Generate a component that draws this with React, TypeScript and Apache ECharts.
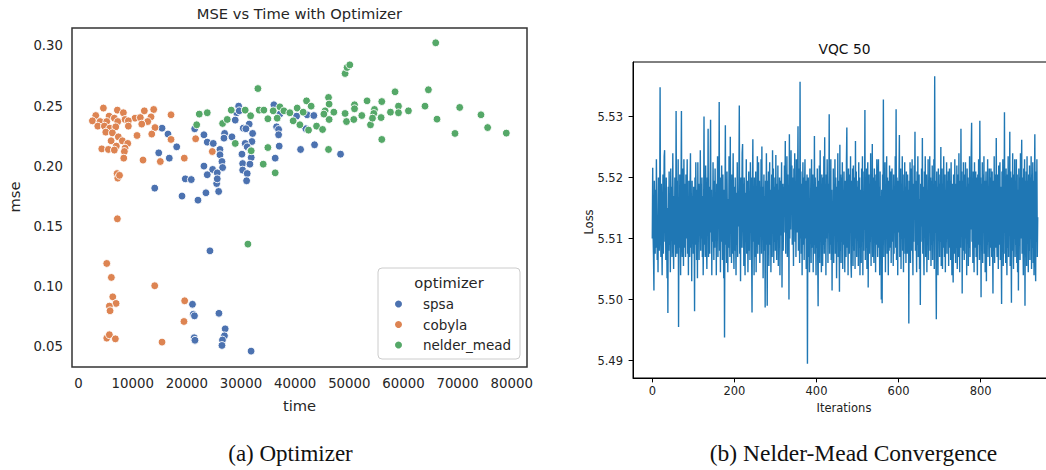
import React, { useEffect, useRef } from "react";
import * as echarts from "echarts";

// ---- Left panel: MSE vs time, one list per optimizer: [time, mse] ----
const spsa: [number, number][] = [
  [29560, 0.2499], [36070, 0.2510], [29190, 0.2444], [28930, 0.2383], [42210, 0.2427],
  [43450, 0.2421], [40260, 0.2416], [37180, 0.2433], [36570, 0.2327], [15410, 0.2316],
  [21440, 0.2311], [30410, 0.2316], [31510, 0.2350], [30900, 0.2311], [16510, 0.2267],
  [23150, 0.2261], [26970, 0.2272], [26850, 0.2233], [28320, 0.2244], [32140, 0.2272],
  [36940, 0.2305], [36940, 0.2261], [41970, 0.2311], [18120, 0.2161], [23760, 0.2200],
  [24870, 0.2189], [26110, 0.2139], [32010, 0.2205], [30770, 0.2189], [31140, 0.2161],
  [37050, 0.2167], [41000, 0.2139], [43580, 0.2178], [48380, 0.2100], [14800, 0.2111],
  [16750, 0.2067], [26110, 0.2095], [30170, 0.2100], [31770, 0.2128], [31880, 0.2072],
  [36310, 0.2067], [23150, 0.2001], [26480, 0.2039], [26600, 0.1989], [24760, 0.1973],
  [23760, 0.1929], [25610, 0.1945], [30300, 0.2022], [31640, 0.2017], [30300, 0.1968],
  [31140, 0.1939], [25500, 0.1856], [31030, 0.1879], [19700, 0.1895], [20810, 0.1889],
  [14060, 0.1818], [19100, 0.1752], [22050, 0.1718], [23520, 0.1779], [25870, 0.1790],
  [25610, 0.1895], [29670, 0.2460], [24260, 0.1297],
  [21030, 0.0853], [21180, 0.0770], [21400, 0.0757], [25920, 0.0778], [27070, 0.0649],
  [26940, 0.0591], [26570, 0.0556], [26480, 0.0511], [21350, 0.0575], [21490, 0.0554],
  [31860, 0.0464],
];

const cobyla: [number, number][] = [
  [4580, 0.2483], [7160, 0.2466], [8270, 0.2444], [12140, 0.2460], [13870, 0.2471],
  [17070, 0.2427], [3170, 0.2421], [5630, 0.2416], [6600, 0.2399], [10420, 0.2399],
  [11400, 0.2404], [13380, 0.2410], [2550, 0.2377], [3970, 0.2371], [5200, 0.2371],
  [8580, 0.2388], [9190, 0.2377], [7230, 0.2371], [12770, 0.2371], [11660, 0.2350],
  [14110, 0.2321], [3540, 0.2333], [4760, 0.2333], [5760, 0.2316], [6860, 0.2327],
  [9190, 0.2333], [5020, 0.2283], [6240, 0.2277], [7340, 0.2244], [10790, 0.2255],
  [13510, 0.2267], [17070, 0.2222], [21620, 0.2228], [6000, 0.2211], [8080, 0.2211],
  [6970, 0.2167], [9080, 0.2189], [4280, 0.2144], [5500, 0.2139], [6600, 0.2134],
  [8580, 0.2150], [8450, 0.2122], [8340, 0.2067], [11900, 0.2051], [15090, 0.2039],
  [19520, 0.2067], [24690, 0.2122], [7100, 0.1939], [7230, 0.1901], [7560, 0.1924],
  [7160, 0.1563], [5200, 0.1192], [6050, 0.1076], [14060, 0.1007], [6310, 0.0915],
  [6920, 0.0860], [5680, 0.0838], [5810, 0.0799], [19590, 0.0882], [19460, 0.0710],
  [5200, 0.0572], [5680, 0.0600], [6790, 0.0566], [15410, 0.0539],
];

const nelderMead: [number, number][] = [
  [65960, 0.3025], [49220, 0.2770], [49590, 0.2820], [50090, 0.2842], [33120, 0.2645],
  [58450, 0.2618], [64610, 0.2635], [46160, 0.2571], [42100, 0.2543], [46270, 0.2516],
  [53280, 0.2543], [56000, 0.2537], [63980, 0.2499], [70390, 0.2488], [59080, 0.2499],
  [50960, 0.2510], [22290, 0.2433], [23760, 0.2444], [28190, 0.2466], [30770, 0.2466],
  [31770, 0.2419], [33360, 0.2466], [34220, 0.2466], [35940, 0.2460], [37180, 0.2493],
  [37920, 0.2460], [39020, 0.2444], [40370, 0.2483], [41480, 0.2449], [45530, 0.2460],
  [47140, 0.2449], [49220, 0.2438], [50960, 0.2477], [54650, 0.2471], [54520, 0.2438],
  [57600, 0.2449], [60920, 0.2460], [74320, 0.2427], [59080, 0.2444], [21810, 0.2344],
  [26600, 0.2355], [27450, 0.2388], [34960, 0.2394], [36680, 0.2399], [39630, 0.2377],
  [40870, 0.2344], [42470, 0.2300], [43950, 0.2333], [45060, 0.2305], [46270, 0.2388],
  [49480, 0.2371], [50830, 0.2388], [52310, 0.2421], [53910, 0.2344], [54280, 0.2399],
  [55870, 0.2404], [66200, 0.2391], [75550, 0.2321], [69520, 0.2272], [79000, 0.2275],
  [56000, 0.2222], [28930, 0.2189], [34960, 0.2155], [31880, 0.2128], [46160, 0.2139],
  [34100, 0.2017], [36310, 0.1945], [31270, 0.1353], [42950, 0.2499], [45300, 0.2433],
];

const timeTicks = [0, 10000, 20000, 30000, 40000, 50000, 60000, 70000, 80000];
const mseTicks = [0.05, 0.1, 0.15, 0.2, 0.25, 0.3];

// ---- Right panel: Nelder-Mead loss per iteration, in units of 1e-4 above 5.5 ----
const lossE4: number[] = [
  100,216,105,70,15,195,140,75,180,85,230,150,65,135,45,200,115,80,140,348,
  120,70,190,105,40,130,205,75,150,235,245,95,170,65,200,120,35,150,-22,185,
  80,210,90,165,45,215,100,185,70,135,240,115,50,170,90,200,125,70,309,140,
  75,195,110,230,-45,160,85,205,130,40,180,309,100,70,215,175,55,230,125,85,
  190,70,205,100,135,230,75,165,40,195,110,70,180,240,85,160,30,195,120,170,
  75,185,125,-19,200,90,225,140,65,180,35,225,100,190,65,170,125,245,80,190,
  100,200,70,170,40,120,300,90,185,70,220,165,95,50,200,110,280,70,185,130,
  75,205,295,110,180,40,160,95,225,130,65,195,85,215,130,165,40,190,100,235,
  70,195,120,324,80,170,45,200,95,220,155,65,205,110,35,180,-62,150,286,90,
  190,60,210,125,45,165,85,235,135,70,267,110,195,60,205,75,160,240,95,50,
  185,80,200,115,40,175,90,225,70,160,120,195,318,75,180,30,200,85,150,240,
  255,85,190,55,200,120,40,175,110,230,75,160,195,45,120,210,80,165,65,225,
  110,200,80,-21,175,263,95,185,40,200,115,70,210,45,165,100,235,75,180,225,
  90,195,60,185,110,230,75,251,120,185,35,150,205,80,170,-13,195,90,240,130,
  -10,195,85,210,55,160,225,90,180,45,135,205,70,245,115,215,60,185,95,200,
  80,237,120,65,190,100,220,55,180,85,200,40,195,105,160,225,20,145,190,80,
  185,110,220,150,260,75,190,125,235,70,205,120,180,0,271,100,210,115,245,150,
  220,90,200,145,55,215,120,240,95,190,70,230,200,110,185,284,80,215,140,60,
  357,100,210,75,190,40,170,225,90,200,65,180,230,100,195,50,160,205,-105,135,
  200,70,160,45,215,95,180,60,230,125,85,205,45,170,90,268,75,200,110,40,
  185,85,215,70,-11,195,100,220,60,245,110,190,45,205,120,55,200,90,235,75,
  266,95,185,40,205,100,230,165,60,190,125,304,75,200,90,230,65,180,15,160,
  85,215,60,190,115,230,75,200,155,35,185,95,240,70,195,110,13,254,80,205,
  60,200,95,225,50,180,90,210,140,45,195,100,70,225,282,85,190,40,215,120,
  75,205,110,235,60,36,195,90,215,55,220,140,80,200,50,260,100,210,70,185,
  110,195,55,225,85,200,40,180,120,60,215,95,235,40,175,80,210,115,311,65,
  190,85,215,50,170,225,20,160,205,75,190,95,240,55,185,110,255,70,200,130,
  60,215,105,195,45,205,90,230,140,70,200,230,85,185,40,210,75,170,0,180,
  -6,205,90,328,70,190,110,225,45,180,100,235,75,200,125,40,195,80,220,140,
  85,210,60,190,215,95,180,55,205,75,165,110,235,85,312,65,200,125,40,195,
  110,195,270,70,180,215,50,190,100,235,80,175,45,205,115,225,75,185,60,210,
  135,75,205,95,180,-39,195,85,225,60,170,215,80,230,115,40,190,95,220,140,
  275,80,195,110,45,210,90,235,70,180,205,50,165,-9,190,95,215,120,265,75,
  185,95,40,210,115,235,70,190,205,45,175,90,230,65,195,110,235,80,200,55,
  195,90,220,65,180,100,230,50,366,110,195,75,-32,210,95,185,40,215,115,190,
  70,205,95,250,55,185,215,50,190,85,235,120,70,205,45,180,95,225,75,195,
  100,210,55,190,215,85,195,65,225,120,40,190,90,28,205,120,75,230,100,60,
  190,85,220,50,175,205,70,240,115,45,195,85,280,105,210,10,195,80,225,130,
  65,205,100,225,75,185,40,215,110,200,55,190,85,235,70,180,115,240,290,95,
  190,60,210,115,45,225,85,185,210,70,200,100,40,205,90,230,120,65,293,170,
  200,4,190,85,225,60,205,110,235,75,195,45,165,210,30,195,90,230,70,185,
  95,215,55,200,85,215,175,70,210,100,10,195,80,235,60,185,205,85,265,120,
  70,205,150,50,220,90,195,225,65,185,110,-7,210,80,230,55,195,110,307,75,
  195,60,215,100,40,205,85,235,70,190,120,275,55,210,105,-5,200,80,240,110,
  50,205,100,230,70,195,90,230,60,205,45,180,15,215,95,200,65,240,100,185,
  262,75,200,95,40,215,85,230,-10,195,70,210,55,235,110,195,45,205,80,220,
  65,200,110,235,50,205,85,225,60,195,40,180,271,85,30,210,95,230,70,135,
];

const iterTicks = [0, 200, 400, 600, 800];
const lossTicks = [5.49, 5.5, 5.51, 5.52, 5.53];

const SANS = "DejaVu Sans";
const SERIF = "Liberation Serif";
const DARK = "#262626";

export default function App() {
  const ref = useRef<HTMLDivElement>(null);

  useEffect(() => {
    if (!ref.current) return;
    const chart = echarts.init(ref.current, undefined, { renderer: "svg" });
    const lossData = lossE4.map((v, i) => [i, 5.5 + v / 10000]);

    const scatterStyle = (color: string) => ({
      color,
      borderColor: "#ffffff",
      borderWidth: 0.9,
      opacity: 1,
    });

    chart.setOption({
      animation: false,
      backgroundColor: "#ffffff",
      textStyle: { fontFamily: SANS },
      grid: [
        {
          left: 72, top: 28, width: 455, height: 339,
          show: true, borderColor: "#333333", borderWidth: 1.5,
          backgroundColor: "transparent", outerBoundsMode: "none",
        },
        {
          left: 633, top: 62, width: 424, height: 316,
          show: true, borderColor: "#000000", borderWidth: 1,
          backgroundColor: "transparent", outerBoundsMode: "none",
        },
      ],
      xAxis: [
        {
          type: "value", gridIndex: 0, min: -1220, max: 82820,
          axisLine: { show: false, onZero: false },
          axisTick: { show: false },
          splitLine: { show: false },
          axisLabel: {
            customValues: timeTicks, margin: 10, fontSize: 13.3,
            color: DARK, fontFamily: SANS, formatter: (v: number) => String(v),
          },
        },
        {
          type: "value", gridIndex: 1, min: -47, max: 986,
          axisLine: { show: true, onZero: false, lineStyle: { color: "#000", width: 1 } },
          axisTick: {
            show: true, customValues: iterTicks, length: 4.4, inside: false,
            lineStyle: { color: "#000", width: 1 },
          },
          splitLine: { show: false },
          axisLabel: {
            customValues: iterTicks, margin: 7, fontSize: 11.5,
            color: "#222", fontFamily: SANS, formatter: (v: number) => String(v),
          },
        },
      ],
      yAxis: [
        {
          type: "value", gridIndex: 0, min: 0.0332, max: 0.3148,
          axisLine: { show: false, onZero: false },
          axisTick: { show: false },
          splitLine: { show: false },
          axisLabel: {
            customValues: mseTicks, margin: 9, fontSize: 13.3, color: DARK,
            fontFamily: SANS, formatter: (v: number) => v.toFixed(2),
          },
        },
        {
          type: "value", gridIndex: 1, min: 5.48715, max: 5.53895,
          axisLine: { show: true, onZero: false, lineStyle: { color: "#000", width: 1 } },
          axisTick: {
            show: true, customValues: lossTicks, length: 4.4, inside: false,
            lineStyle: { color: "#000", width: 1 },
          },
          splitLine: { show: false },
          axisLabel: {
            customValues: lossTicks, margin: 10, fontSize: 11.5, color: "#222",
            fontFamily: SANS, formatter: (v: number) => v.toFixed(2),
          },
        },
      ],
      legend: {
        data: ["spsa", "cobyla", "nelder_mead"],
        orient: "vertical",
        left: 393,
        top: 297,
        padding: 0,
        itemWidth: 9,
        itemHeight: 9,
        itemGap: 6.5,
        icon: "circle",
        z: 5,
        textStyle: {
          fontSize: 13.5, color: DARK, fontFamily: SANS,
          lineHeight: 14, padding: [0, 0, 0, 15],
        },
      },
      series: [
        {
          type: "scatter", name: "spsa", xAxisIndex: 0, yAxisIndex: 0,
          data: spsa, symbolSize: 7.8, itemStyle: scatterStyle("#4c72b0"),
          emphasis: { disabled: true },
        },
        {
          type: "scatter", name: "cobyla", xAxisIndex: 0, yAxisIndex: 0,
          data: cobyla, symbolSize: 7.8, itemStyle: scatterStyle("#dd8452"),
          emphasis: { disabled: true },
        },
        {
          type: "scatter", name: "nelder_mead", xAxisIndex: 0, yAxisIndex: 0,
          data: nelderMead, symbolSize: 7.8, itemStyle: scatterStyle("#55a868"),
          emphasis: { disabled: true },
        },
        {
          type: "line", name: "loss", xAxisIndex: 1, yAxisIndex: 1,
          data: lossData, showSymbol: false, symbol: "none",
          lineStyle: { color: "#1f77b4", width: 1.4 },
          emphasis: { disabled: true }, silent: true,
        },
      ],
      graphic: [
        {
          type: "rect", z: 3,
          shape: { x: 378, y: 268, width: 142, height: 91, r: 4 },
          style: { fill: "rgba(255,255,255,0.8)", stroke: "#cccccc", lineWidth: 1 },
        },
        {
          type: "text", z: 5, x: 449, y: 282,
          style: { text: "optimizer", fontSize: 14.7, fontFamily: SANS, fill: DARK, align: "center", verticalAlign: "middle" },
        },
        {
          type: "text", x: 299.5, y: 13,
          style: { text: "MSE vs Time with Optimizer", fontSize: 14.7, fontFamily: SANS, fill: DARK, align: "center", verticalAlign: "middle" },
        },
        {
          type: "text", x: 299.5, y: 405,
          style: { text: "time", fontSize: 14.7, fontFamily: SANS, fill: DARK, align: "center", verticalAlign: "middle" },
        },
        {
          type: "text", x: 14, y: 197, rotation: Math.PI / 2,
          style: { text: "mse", fontSize: 14.7, fontFamily: SANS, fill: DARK, align: "center", verticalAlign: "middle" },
        },
        {
          type: "text", x: 844.5, y: 49,
          style: { text: "VQC 50", fontSize: 13.8, fontFamily: SANS, fill: "#111", align: "center", verticalAlign: "middle" },
        },
        {
          type: "text", x: 844, y: 408,
          style: { text: "Iterations", fontSize: 11.5, fontFamily: SANS, fill: "#222", align: "center", verticalAlign: "middle" },
        },
        {
          type: "text", x: 589, y: 222, rotation: Math.PI / 2,
          style: { text: "Loss", fontSize: 11.5, fontFamily: SANS, fill: "#222", align: "center", verticalAlign: "middle" },
        },
        {
          type: "text", x: 290.5, y: 453,
          style: { text: "(a) Optimizer", fontSize: 23, fontFamily: SERIF, fill: "#111", align: "center", verticalAlign: "middle" },
        },
        {
          type: "text", x: 853.5, y: 453,
          style: { text: "(b) Nelder-Mead Convergence", fontSize: 23.5, fontFamily: SERIF, fill: "#111", align: "center", verticalAlign: "middle" },
        },
      ],
    });

    return () => chart.dispose();
  }, []);

  return (
    <div
      ref={ref}
      style={{ position: "fixed", left: 0, top: 0, width: 1046, height: 470, background: "#fff" }}
    />
  );
}
